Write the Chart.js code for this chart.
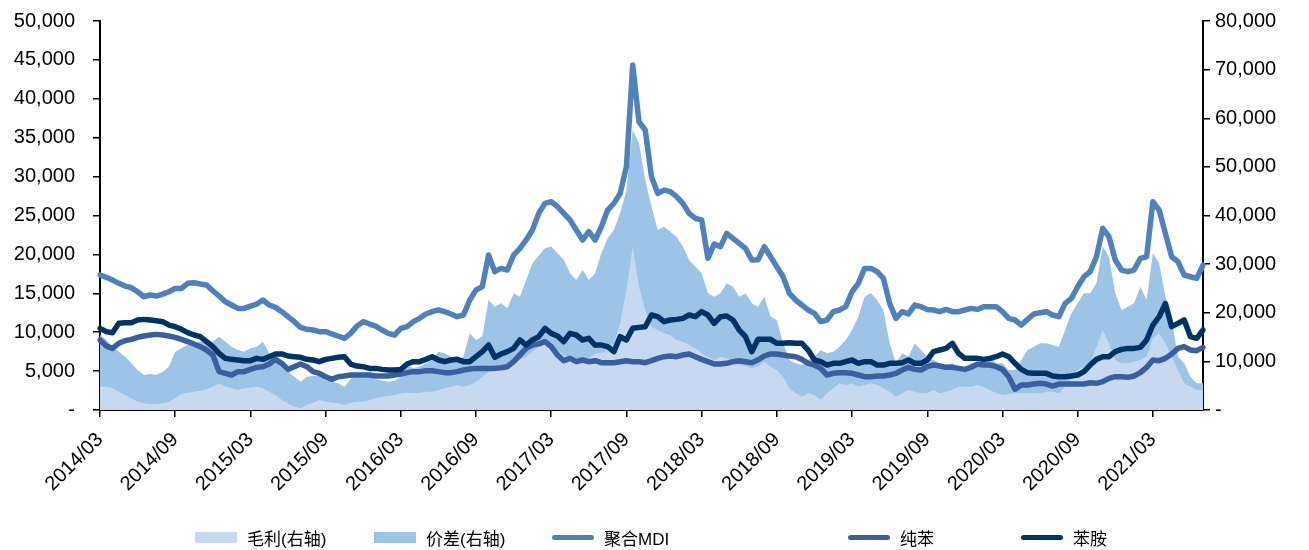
<!DOCTYPE html>
<html>
<head>
<meta charset="utf-8">
<script src="https://cdn.jsdelivr.net/npm/chart.js@4.4.0/dist/chart.umd.min.js"></script>
<style>
  html, body { margin: 0; padding: 0; background: #fff; }
  #wrap { position: relative; width: 1309px; height: 550px; }
  #legend { position: absolute; left: 0; top: 524px; width: 1309px; height: 26px;
            font-family: 'Liberation Sans', Arial, 'Noto Sans CJK SC', sans-serif; font-size: 17px; color: #000; }
  .item { position: absolute; top: 0; height: 26px; display: flex; align-items: center; white-space: nowrap; }
  .sw { width: 42px; margin-right: 10px; }
</style>
</head>
<body>
<div id="wrap">
  <canvas id="mdiChart" width="1309" height="550"></canvas>
  <div id="legend"></div>
</div>
<script>
// semi-monthly series, 2014/03 .. 2021/07
const maoli = [
  4800, 4800, 4460, 3770, 3090, 2400, 1710, 1370, 1230, 1160, 1370, 1710, 2400, 3290, 3570, 3770, 3980, 4250, 4800, 5490, 4800, 4460, 4110, 4460, 4600, 4800, 4460, 3770, 3090, 2060, 1370, 690, 340, 1030, 1510, 2060,
  1710, 1510, 1370, 1030, 1510, 1710, 1710, 2060, 2400, 2740, 2880, 3090, 3430, 3570, 3430, 3570, 3770, 3770, 4110, 4460, 4800, 5140, 4800, 5140, 5830, 6860, 7880, 8230, 8910, 9600, 9940, 10290, 10970, 12000,
  13000, 13500, 13000, 12340, 11310, 10630, 10290, 9940, 10630, 11660, 11660, 12340, 13710, 17830, 24680, 33600, 25360, 20570, 17140, 16460, 15770, 15430, 14400, 14060, 13370, 12690, 11660, 10970, 10290, 10970, 10630, 9940, 9260, 9050, 8570,
  9000, 9940, 8910, 8230, 6860, 4460, 3430, 2740, 3430, 3090, 2060, 3430, 4460, 5490, 5140, 5490, 4800, 5140, 5490, 5140, 4460, 3770, 2740, 3430, 4110, 3770, 3430, 3430, 4110, 3430, 3770, 4110, 4800, 4800, 4800,
  5140, 4800, 4110, 3430, 3090, 3290, 3430, 3430, 3430, 3430, 3430, 3770, 3770, 3430, 4800, 6510, 8230, 8910, 9600, 13030, 16460, 13710, 10290, 9600, 9600, 9940, 10290, 10970, 14740, 15770, 13710, 10970, 8230, 5490, 4800, 4110, 4110
];
const jiacha = [
  15400, 14400, 13030, 12000, 10970, 9600, 8230, 7200, 7400, 7200, 7880, 8910, 12000, 12690, 13370, 13710, 14050, 14400, 14050, 15090, 14050, 13030, 12340, 12000, 12690, 13030, 14050, 11660, 10290, 8910, 7880, 6860, 5830, 6860, 7000, 7000,
  6170, 5830, 5490, 4800, 6310, 7400, 7400, 6860, 6310, 6030, 5830, 6030, 6860, 9260, 8570, 8910, 9600, 10290, 12000, 11660, 10970, 10290, 10970, 15770, 14400, 15090, 22630, 21250, 21940, 20910, 24000, 23310, 26740, 30170,
  31700, 33260, 33600, 32230, 30860, 28120, 26740, 28800, 26740, 28120, 32230, 35320, 37030, 40460, 45250, 57600, 54860, 47310, 41820, 37030, 37700, 36680, 35650, 33600, 30860, 29480, 28120, 24000, 23310, 24000, 26060, 25360, 23310, 24000, 21940,
  21250, 23310, 19200, 18510, 13710, 10290, 9600, 9260, 10290, 10970, 12340, 11660, 12000, 13030, 14400, 16460, 19200, 23310, 24000, 22630, 20570, 13710, 9600, 11660, 10970, 13710, 12340, 10970, 10290, 9600, 9260, 9600, 8910, 8570, 9600,
  9600, 10290, 10970, 9600, 9600, 8230, 8230, 10290, 12340, 13030, 13710, 13710, 13370, 13030, 16460, 19890, 21940, 24000, 24000, 26060, 33600, 31540, 24000, 20570, 21250, 21940, 25360, 22630, 32230, 30170, 23310, 18510, 10970, 9600, 6860, 5490, 5490
];
const mdi = [
  17350, 17050, 16700, 16280, 15930, 15720, 15200, 14560, 14780, 14650, 14900, 15200, 15630, 15630, 16280, 16360, 16190, 16060, 15330, 14650, 13920, 13490, 13060, 13060, 13360, 13620, 14140, 13490, 13190, 12640, 11990, 11350, 10620, 10370, 10280, 10070,
  10070, 9770, 9510, 9210, 9850, 10790, 11350, 11050, 10790, 10280, 9850, 9640, 10500, 10710, 11350, 11780, 12340, 12640, 12850, 12640, 12340, 11990, 12210, 14140, 15420, 15850, 19920, 17780, 18200, 17990, 19920, 20770, 21850, 23130,
  25270, 26560, 26770, 26130, 25270, 24420, 23130, 21850, 22920, 21850, 23560, 25700, 26560, 27840, 31270, 44330, 37050, 35980, 29980, 27840, 28270, 28060, 27420, 26560, 25270, 24630, 24420, 19500, 21330, 20990, 22700, 22060, 21420, 20770, 19280,
  19300, 20990, 19700, 18420, 17130, 14990, 14140, 13490, 12850, 12420, 11350, 11570, 12640, 12850, 13280, 15200, 16280, 18200, 18200, 17780, 16920, 13700, 11780, 12640, 12340, 13490, 13280, 12930, 12850, 12640, 12930, 12640, 12640, 12850, 13060,
  12930, 13280, 13280, 13280, 12640, 11780, 11570, 10920, 11650, 12340, 12510, 12640, 12210, 11990, 13700, 14350, 15850, 17130, 17780, 19700, 23340, 22270, 19280, 17990, 17780, 17990, 19490, 19700, 26770, 25700, 22700, 19700, 19060, 17350, 17130, 16920, 18630
];
const chunben = [
  9000, 8220, 7920, 8570, 8910, 9080, 9340, 9510, 9640, 9720, 9640, 9510, 9340, 9080, 8780, 8480, 8140, 7710, 7070, 4930, 4710, 4500, 4930, 4930, 5220, 5480, 5570, 5910, 6510, 6000, 5220, 5570, 5910, 5570, 4930, 4710,
  4280, 3940, 4280, 4370, 4500, 4500, 4500, 4500, 4370, 4370, 4370, 4500, 4630, 4800, 4930, 4930, 5050, 5050, 4930, 4800, 4800, 4930, 5140, 5270, 5350, 5350, 5350, 5350, 5440, 5570, 6210, 7070, 7920, 8350,
  8500, 8780, 8140, 7070, 6340, 6640, 6210, 6430, 6210, 6340, 6080, 6080, 6080, 6210, 6340, 6210, 6210, 6080, 6340, 6640, 6850, 6940, 6850, 7070, 7200, 6850, 6510, 6210, 5910, 5910, 6000, 6210, 6340, 6210, 6080,
  6450, 6940, 7200, 7200, 7070, 6940, 6850, 6510, 6000, 5780, 5350, 4500, 4710, 4800, 4800, 4710, 4500, 4280, 4280, 4370, 4370, 4500, 4710, 5140, 5480, 5220, 5140, 5570, 5780, 5650, 5480, 5480, 5350, 5220, 5480,
  5900, 5780, 5780, 5570, 5220, 4280, 2660, 3210, 3210, 3340, 3430, 3340, 3080, 3340, 3340, 3340, 3340, 3340, 3510, 3430, 3640, 4070, 4280, 4280, 4200, 4370, 4800, 5480, 6430, 6340, 6640, 7200, 7920, 8140, 7710, 7630, 8050
];
const benan = [
  10500, 10070, 9940, 11140, 11220, 11220, 11570, 11650, 11570, 11480, 11350, 10920, 10710, 10370, 9940, 9640, 9420, 8780, 8140, 7280, 6640, 6510, 6430, 6340, 6340, 6640, 6510, 6850, 7200, 7200, 6940, 6850, 6770, 6510, 6430, 6210,
  6510, 6640, 6770, 6850, 5910, 5650, 5570, 5350, 5350, 5220, 5140, 5140, 5220, 5910, 6210, 6210, 6510, 6850, 6430, 6210, 6430, 6510, 6210, 6210, 6850, 7500, 8350, 6770, 7200, 7500, 7920, 9000, 8350, 9000,
  9420, 10500, 9850, 9510, 8780, 9850, 9640, 9000, 9210, 8350, 8350, 8140, 7500, 9420, 9000, 10500, 10620, 10710, 12210, 12000, 11350, 11570, 11650, 11780, 12210, 12000, 12640, 12210, 11140, 12000, 12080, 11570, 10280, 9420, 7500,
  9080, 9080, 9080, 8570, 8570, 8650, 8570, 8570, 7710, 6430, 6210, 5780, 6000, 6000, 6210, 6430, 6000, 6210, 6210, 5780, 5780, 6000, 6000, 6080, 6430, 6000, 6000, 6430, 7500, 7710, 7920, 8570, 7280, 6640, 6640,
  6640, 6510, 6640, 6850, 7200, 6850, 6000, 5220, 4800, 4710, 4710, 4710, 4370, 4280, 4280, 4370, 4500, 4930, 5780, 6510, 6850, 6850, 7500, 7790, 7920, 7920, 8050, 9000, 10920, 11990, 13700, 10710, 11140, 11570, 9420, 9210, 10280
];
const tickLabels = ['2014/03', '2014/09', '2015/03', '2015/09', '2016/03', '2016/09', '2017/03', '2017/09',
                    '2018/03', '2018/09', '2019/03', '2019/09', '2020/03', '2020/09', '2021/03'];

// category labels: two points per month from 2014/03
const dates = [];
for (let k = 0; k < mdi.length; k++) {
    const m = 2 + Math.floor(k / 2);
    const yr = 2014 + Math.floor(m / 12);
    const mm = String(m % 12 + 1).padStart(2, '0');
    dates.push(yr + '/' + mm + (k % 2 ? '/16' : '/01'));
}

const FONT = "'Liberation Sans', Arial, 'Noto Sans CJK SC', sans-serif";

function area(label, data, color, order) {
    return { label: label, data: data, yAxisID: 'y1', backgroundColor: color, borderColor: color,
             borderWidth: 0, fill: 'origin', pointRadius: 0, tension: 0, order: order, kind: 'area' };
}
function line(label, data, color, order) {
    return { label: label, data: data, yAxisID: 'y', borderColor: color, backgroundColor: color,
             borderWidth: 5.5, fill: false, pointRadius: 0, tension: 0, order: order,
             borderJoinStyle: 'round', borderCapStyle: 'round', kind: 'line' };
}

// fixed axis sizes so the plot sits where the original has it
function fixWidth(w) {
    return s => { s.width = w; s.paddingTop = 0; s.paddingBottom = 0; };
}

const ctx = document.getElementById('mdiChart').getContext('2d');
const mdiChart = new Chart(ctx, {
    type: 'line',
    data: {
        labels: dates,
        datasets: [
            area('毛利(右轴)', maoli, '#c6d9f0', 4),
            area('价差(右轴)', jiacha, '#9dc3e6', 5),
            line('聚合MDI', mdi, '#4f81bd', 3),
            line('纯苯', chunben, '#3a5fa0', 2),
            line('苯胺', benan, '#003366', 1)
        ]
    },
    options: {
        responsive: false,
        animation: false,
        devicePixelRatio: 1,
        layout: { padding: { top: 21, left: 0, right: 0, bottom: 0 } },
        plugins: { legend: { display: false }, tooltip: { enabled: false } },
        scales: {
            x: {
                offset: false,
                grid: { drawOnChartArea: false, drawTicks: true, tickLength: 7, color: '#000', lineWidth: 1.5 },
                border: { display: true, color: '#000', width: 2 },
                ticks: {
                    autoSkip: false, minRotation: 45, maxRotation: 45, padding: 11, color: '#000',
                    font: { size: 20, family: FONT },
                    callback: (v, i) => (i % 12 === 0 && i / 12 < tickLabels.length) ? tickLabels[i / 12] : null
                },
                afterFit: s => { s.height = 140; }
            },
            y: {
                position: 'left', min: 0, max: 50000,
                grid: { drawOnChartArea: false, drawTicks: true, tickLength: 7, color: '#000', lineWidth: 1.5 },
                border: { display: true, color: '#000', width: 2 },
                ticks: {
                    stepSize: 5000, padding: 18, color: '#000', font: { size: 20, family: FONT },
                    callback: v => v === 0 ? '-' : v.toLocaleString('en-US')
                },
                afterFit: fixWidth(100)
            },
            y1: {
                position: 'right', min: 0, max: 80000,
                grid: { drawOnChartArea: false, drawTicks: true, tickLength: 7, color: '#000', lineWidth: 1.5 },
                border: { display: true, color: '#000', width: 2 },
                ticks: {
                    stepSize: 10000, padding: 5, color: '#000', font: { size: 20, family: FONT },
                    callback: v => v === 0 ? '-' : v.toLocaleString('en-US')
                },
                afterFit: fixWidth(106)
            }
        }
    }
});

// legend under the chart
const legendX = [195, 374, 552, 848, 1021];
const legend = document.getElementById('legend');
mdiChart.data.datasets.forEach((ds, i) => {
    const item = document.createElement('div');
    item.className = 'item';
    item.style.left = legendX[i] + 'px';
    const sw = document.createElement('span');
    sw.className = 'sw';
    sw.style.background = ds.borderColor;
    sw.style.height = ds.kind === 'area' ? '11px' : '5px';
    if (ds.kind === 'line') sw.style.borderRadius = '3px';
    item.appendChild(sw);
    item.appendChild(document.createTextNode(ds.label));
    legend.appendChild(item);
});
</script>
</body>
</html>
